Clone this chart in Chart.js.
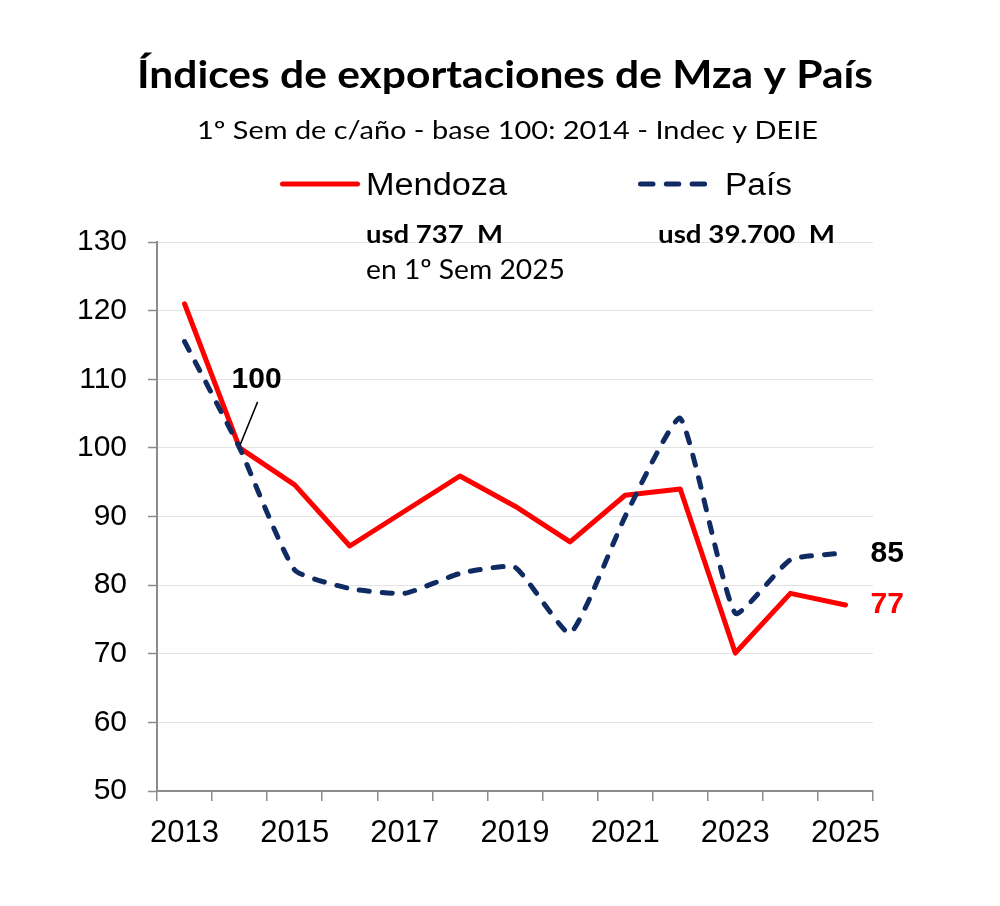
<!DOCTYPE html>
<html><head><meta charset="utf-8">
<script src="https://cdn.jsdelivr.net/npm/chart.js@4.4.1/dist/chart.umd.min.js"></script>
<style>html,body{margin:0;padding:0;background:#fff}#wrap{width:1000px;height:906px;position:relative}</style>
</head><body><div id="wrap"><canvas id="c"></canvas></div>
<script>
const years = ['2013','2014','2015','2016','2017','2018','2019','2020','2021','2022','2023','2024','2025'];
const mendoza = [121.0, 100, 94.6, 85.7, 90.8, 95.9, 91.5, 86.3, 93.1, 94.0, 70.1, 78.8, 77.1];
const pais    = [115.5, 100, 82.2, 79.5, 78.8, 81.7, 82.6, 73.0, 90.0, 104.3, 75.9, 83.7, 84.7];
const yMin = 50, yMax = 130, yStep = 10;
const titleText = 'Índices de exportaciones de Mza y País';
const subtitleText = '1º Sem de c/año - base 100: 2014 - Indec y DEIE';
const seriesNames = ['Mendoza', 'País'];
const noteMendoza = ['usd 737  M', 'en 1º Sem 2025'];
const notePais = ['usd 39.700  M'];
const baseYearIndex = 1;

const RED = '#ff0000', NAVY = '#0f2b62', AXIS = '#8c8c8c';

function fitText(ctx, text, x, y, font, width, align, color) {
  ctx.save();
  ctx.font = font;
  ctx.fillStyle = color || '#000';
  ctx.textBaseline = 'alphabetic';
  ctx.textAlign = 'left';
  const w = ctx.measureText(text).width;
  const sx = width / w;
  const left = align === 'center' ? x - width / 2 : x;
  ctx.translate(left, y);
  ctx.scale(sx, 1);
  ctx.fillText(text, 0, 0);
  ctx.restore();
}

const decor = {
  id: 'decor',
  afterDraw(chart) {
    const ctx = chart.ctx;
    const xs = chart.scales.x, ys = chart.scales.y;
    fitText(ctx, titleText, 505, 88, 'bold 38px Lato', 736, 'center');
    fitText(ctx, subtitleText, 507.5, 139, '25px Lato', 621, 'center');
    const ds = chart.data.datasets;
    const legendItems = [
      {d: ds.find(d => d.label === seriesNames[0]), x0: 282.5, x1: 357.5, tx: 366, tw: 141, dash: []},
      {d: ds.find(d => d.label === seriesNames[1]), x0: 640.5, x1: 707.5, tx: 725, tw: 67, dash: [12.5, 13.3]}
    ];
    legendItems.forEach(it => {
      ctx.save();
      ctx.strokeStyle = it.d.borderColor;
      ctx.lineWidth = 5;
      ctx.lineCap = 'round';
      ctx.setLineDash(it.dash);
      ctx.beginPath();
      ctx.moveTo(it.x0, 184);
      ctx.lineTo(it.x1, 184);
      ctx.stroke();
      ctx.restore();
      fitText(ctx, it.d.label, it.tx, 195, '31px "Liberation Sans"', it.tw, 'left');
    });
    fitText(ctx, noteMendoza[0], 366, 243, 'bold 24px Lato', 137, 'left');
    fitText(ctx, noteMendoza[1], 366, 279, '27px Lato', 199, 'left');
    fitText(ctx, notePais[0], 658, 242.5, 'bold 24px Lato', 177, 'left');
    const bx = xs.getPixelForValue(baseYearIndex), by = ys.getPixelForValue(mendoza[baseYearIndex]);
    ctx.save();
    ctx.strokeStyle = '#000';
    ctx.lineWidth = 1.5;
    ctx.beginPath();
    ctx.moveTo(bx + 18, by - 46);
    ctx.lineTo(bx + 0.5, by - 3);
    ctx.stroke();
    ctx.font = 'bold 30px "Liberation Sans"';
    ctx.fillStyle = '#000';
    ctx.textAlign = 'center';
    ctx.textBaseline = 'middle';
    ctx.fillText(String(Math.round(mendoza[baseYearIndex])), bx + 17, by - 68);
    const last = years.length - 1;
    const lx = xs.getPixelForValue(last);
    ctx.textAlign = 'left';
    ctx.fillStyle = '#000';
    ctx.fillText(String(Math.round(pais[last])), lx + 25, ys.getPixelForValue(pais[last]) + 1);
    ctx.fillStyle = RED;
    ctx.fillText(String(Math.round(mendoza[last])), lx + 25, ys.getPixelForValue(mendoza[last]));
    ctx.restore();
  }
};

new Chart(document.getElementById('c'), {
  type: 'line',
  data: {
    labels: years,
    datasets: [
      {label: seriesNames[0], data: mendoza, borderColor: RED, borderWidth: 5, pointRadius: 0,
       tension: 0, borderCapStyle: 'round', borderJoinStyle: 'round', order: 1, fill: false},
      {label: seriesNames[1], data: pais, borderColor: NAVY, borderWidth: 5, pointRadius: 0,
       tension: 0.15, borderDash: [10, 13], borderCapStyle: 'round', borderJoinStyle: 'round', order: 0, fill: false}
    ]
  },
  options: {
    responsive: true,
    maintainAspectRatio: false,
    animation: false,
    layout: {padding: {top: 242, left: 10, right: 127, bottom: 54}},
    plugins: {legend: {display: false}, title: {display: false}, tooltip: {enabled: false}},
    scales: {
      x: {
        type: 'category',
        offset: true,
        grid: {offset: true, drawOnChartArea: false, drawTicks: true, tickLength: 10, color: AXIS, lineWidth: 1.5},
        border: {color: AXIS, width: 2},
        ticks: {
          autoSkip: false, maxRotation: 0, minRotation: 0, padding: 14, color: '#000',
          font: {family: '"Liberation Sans", Arial, sans-serif', size: 31},
          callback: function(v, i) { return i % 2 === 0 ? years[i] : ''; }
        },
        afterFit(scale) { scale.height = 61; }
      },
      y: {
        min: yMin, max: yMax,
        grid: {color: '#e3e3e3', lineWidth: 1, tickColor: AXIS, tickLength: 9, tickWidth: 1.5},
        border: {color: AXIS, width: 2},
        ticks: {stepSize: yStep, padding: 21, color: '#000',
          font: {family: '"Liberation Sans", Arial, sans-serif', size: 30}},
        afterFit(scale) { scale.width = 147; }
      }
    }
  },
  plugins: [decor]
});
</script>
</body></html>
